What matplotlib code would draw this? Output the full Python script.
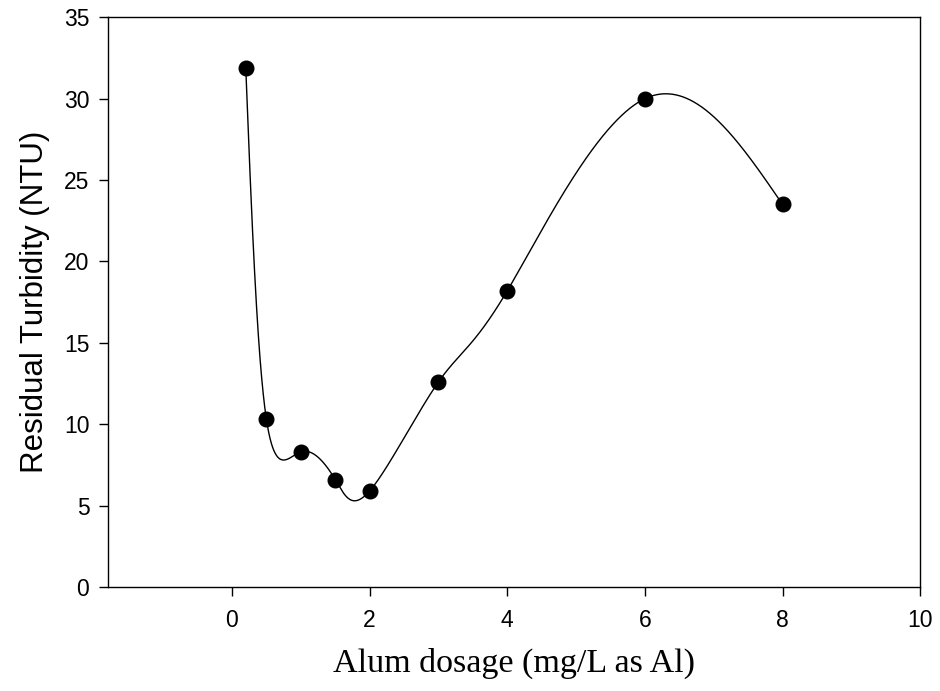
import numpy as np
import matplotlib
matplotlib.use("Agg")
import matplotlib.pyplot as plt

plt.rcParams["font.family"] = ["Liberation Sans", "DejaVu Sans"]

dosage = [0.2, 0.5, 1.0, 1.5, 2.0, 3.0, 4.0, 6.0, 8.0]
turbidity = [31.9, 10.3, 8.3, 6.6, 5.9, 12.6, 18.2, 30.0, 23.5]
xticks = [0, 2, 4, 6, 8, 10]
yticks = [0, 5, 10, 15, 20, 25, 30, 35]


def natural_spline(t, y, ts):
    t = np.asarray(t, float)
    y = np.asarray(y, float)
    k = len(t)
    h = np.diff(t)
    A = np.zeros((k, k))
    b = np.zeros(k)
    A[0, 0] = 1
    A[-1, -1] = 1
    for i in range(1, k - 1):
        A[i, i - 1] = h[i - 1]
        A[i, i] = 2 * (h[i - 1] + h[i])
        A[i, i + 1] = h[i]
        b[i] = 6 * ((y[i + 1] - y[i]) / h[i] - (y[i] - y[i - 1]) / h[i - 1])
    m = np.linalg.solve(A, b)
    idx = np.clip(np.searchsorted(t, ts) - 1, 0, k - 2)
    t0, t1 = t[idx], t[idx + 1]
    hh = t1 - t0
    a = t1 - ts
    c = ts - t0
    return (m[idx] * a ** 3 / (6 * hh) + m[idx + 1] * c ** 3 / (6 * hh)
            + (y[idx] / hh - m[idx] * hh / 6) * a
            + (y[idx + 1] / hh - m[idx + 1] * hh / 6) * c)


# parametric spline through the points (uniform parameter)
t = np.arange(len(dosage), dtype=float)
ts = np.linspace(0, t[-1], 2000)
curve_x = natural_spline(t, dosage, ts)
curve_y = natural_spline(t, turbidity, ts)

fig = plt.figure(figsize=(9.4, 6.91), dpi=100)
ax = fig.add_axes([0.115, 0.1505, 0.864, 0.8245])

ax.plot(curve_x, curve_y, color="black", linewidth=1.0)
ax.plot(dosage, turbidity, "o", color="black", markersize=10.5)

ax.set_xlim(-1.8, 10)
ax.set_ylim(0, 35)
ax.set_xticks(xticks)
ax.set_yticks(yticks)
ax.tick_params(direction="out", length=6.5, width=1, labelsize=16.5)
ax.tick_params(axis="x", pad=9)
ax.tick_params(axis="y", pad=7)
for s in ax.spines.values():
    s.set_linewidth(1)

ax.set_xlabel("Alum dosage (mg/L as Al)", family="Liberation Serif",
              fontsize=24.5, labelpad=12)
ax.set_ylabel("Residual Turbidity (NTU)", fontsize=22.5, labelpad=10)

fig.savefig("out.png", dpi=100)
